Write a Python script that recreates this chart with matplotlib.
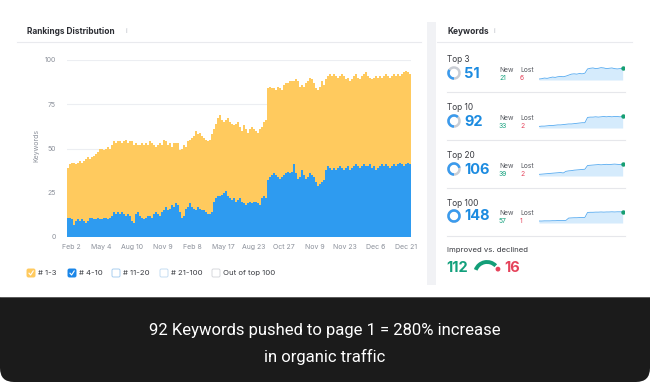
import numpy as np
import matplotlib.pyplot as plt
from matplotlib.patches import Rectangle, FancyBboxPatch, Arc, Circle

plt.rcParams['font.family'] = ['Inter', 'DejaVu Sans']

# keywords in top 10 (bar height) and the #4-10 part (blue)
top10_counts = [
    39, 41, 42,
    42, 41, 42, 43, 42, 43, 44, 45, 44,
    45, 46, 47, 48, 50,
    50, 49, 50, 51, 50, 52, 54, 53, 54,
    54, 53, 54, 55, 53, 54, 54, 52, 53, 52, 52,
    53, 52, 53, 52, 54, 53, 52, 51, 52, 53, 52, 55, 54, 52, 53, 51, 53, 53,
    53, 49, 50, 52, 51, 54, 55,
    56, 57, 60, 58, 59, 57, 56, 55, 54, 55, 58, 61, 64,
    67, 69, 66, 65, 66, 67, 65, 64, 63, 64, 65, 62, 60, 63, 61, 59, 61, 62, 61, 60, 59, 61, 62, 65, 66,
    84, 85, 84, 84, 83, 85, 84, 83, 86, 87, 87, 88,
    88, 88, 89, 88, 85, 86, 85, 87, 88, 90, 89, 87, 84, 83, 85, 88, 86, 89, 91, 92,
    91, 92, 91, 90, 91, 92, 91, 89, 90, 88, 89, 91, 92, 90, 89, 91, 92, 93, 91, 90,
    89, 90, 91, 90, 91, 90, 91, 92, 91, 90, 91, 92, 91, 92, 91, 92, 93, 94, 93, 92,
]
pos_4_10 = [
    11, 11, 10,
    7, 9, 10, 9, 10, 9, 8, 9, 11,
    11, 10, 10, 11, 10,
    10, 11, 11, 10, 11, 12, 14, 13, 14,
    13, 14, 13, 12, 13, 12, 9, 8, 13, 14, 12,
    11, 10, 11, 12, 12, 11, 13, 14, 13, 12, 14, 15, 17, 15, 16, 18, 17, 19,
    18, 14, 11, 12, 16, 17, 19,
    17, 16, 15, 17, 16, 15, 15, 14, 13, 13, 14, 20, 22,
    23, 23, 24, 25, 26, 23, 22, 21, 22, 20, 21, 22, 20, 19, 18, 19, 20, 19, 20, 20, 19, 18, 22, 23, 22,
    32, 34, 35, 36, 35, 34, 33, 34, 35, 36, 37, 36,
    37, 41, 36, 33, 34, 38, 35, 33, 34, 36, 35, 34, 31, 29, 30, 31, 32, 38, 40, 39,
    38, 39, 38, 39, 40, 39, 38, 39, 40, 38, 39, 40, 41, 40, 39, 40, 41, 40, 40, 41,
    39, 40, 38, 39, 40, 41, 40, 41, 40, 39, 40, 41, 40, 41, 42, 41, 40, 41, 42, 41,
]
pos_1_3 = [t - b for t, b in zip(top10_counts, pos_4_10)]

date_labels = ["Feb 2", "May 4", "Aug 10", "Nov 9", "Feb 8", "May 17",
               "Aug 23", "Oct 27", "Nov 9", "Nov 23", "Dec 6", "Dec 21"]
y_ticks = [0, 25, 50, 75, 100]

legend_labels = ["# 1-3", "# 4-10", "# 11-20", "# 21-100", "Out of top 100"]

kw_groups = ["Top 3", "Top 10", "Top 20", "Top 100"]
kw_counts = [51, 92, 106, 148]
kw_new = [21, 33, 39, 57]
kw_lost = [6, 2, 2, 1]
spark_top3 = [18, 19, 21, 20, 22, 24, 23, 25, 26, 25, 27, 30, 33, 34, 33, 35,
              34, 36, 49, 51, 52, 50, 51, 53, 52, 50, 51, 52, 50, 49, 50, 51]
spark_top10 = [60, 61, 61, 62, 63, 63, 64, 65, 65, 66, 67, 68, 68, 69, 70, 71,
               72, 72, 89, 90, 90, 91, 90, 91, 92, 91, 92, 91, 92, 92, 91, 92]
spark_top20 = [62, 63, 64, 65, 66, 67, 68, 69, 70, 68, 75, 77, 78, 80, 81, 82,
               83, 84, 100, 101, 102, 103, 104, 103, 104, 105, 104, 105, 106, 105, 104, 106]
spark_top100 = [92, 92, 93, 93, 93, 94, 94, 95, 95, 95, 96, 110, 111, 112, 112, 113,
                113, 114, 144, 145, 145, 146, 146, 147, 146, 147, 147, 148, 147, 148, 148, 148]
sparks = [spark_top3, spark_top10, spark_top20, spark_top100]
spark_ylims = [(15, 58), (55, 100), (55, 115), (80, 165)]
improved, declined = 112, 16
caption = ["92 Keywords pushed to page 1 = 280% increase", "in organic traffic"]

YELLOW = "#FFCA5E"
BLUE = "#2E9BF0"
NUMBLUE = "#1C8BE0"
GREEN = "#12A07C"
RED = "#E5435B"
GRAY = "#8C919B"
DARK = "#2B2D33"

W, H = 650, 382
fig = plt.figure(figsize=(6.5, 3.82), dpi=100, facecolor="white")

# overlay axes in pixel coordinates (y down) for the dashboard furniture
ov = fig.add_axes([0, 0, 1, 1], zorder=0)
ov.set_xlim(0, W)
ov.set_ylim(H, 0)
ov.axis("off")

ov.add_patch(Rectangle((427, 22), 9, 263, color="#F1F2F5", lw=0))
ov.plot([17, 421], [42, 42], color="#E9EAEE", lw=0.8)
ov.plot([437, 632], [42, 42], color="#E9EAEE", lw=0.8)
ov.text(27, 31, "Rankings Distribution", fontsize=6, fontweight="bold", color=DARK, va="center")
ov.text(126, 31, "i", fontsize=5, color="#B9BDC5", va="center")
ov.text(447, 31, "Keywords", fontsize=6, fontweight="bold", color=DARK, va="center")
ov.text(494, 31, "i", fontsize=5, color="#B9BDC5", va="center")
ov.text(36, 146, "Keywords", fontsize=5, color=GRAY, rotation=90, va="center", ha="center")

# legend checkboxes
box_x = [27, 68, 112, 160, 212]
box_face = [YELLOW, "#1A86E8", "white", "white", "white"]
box_edge = [YELLOW, "#1A86E8", "#A9CFF0", "#C5DDF2", "#D6D8DD"]
for bx, lab, fc, ec in zip(box_x, legend_labels, box_face, box_edge):
    ov.add_patch(FancyBboxPatch((bx, 269), 8, 8, boxstyle="round,pad=0,rounding_size=1.5",
                                fc=fc, ec=ec, lw=0.7))
    if fc != "white":
        ov.plot([bx + 2, bx + 3.6, bx + 6.2], [273.2, 275, 271], color="white", lw=0.8)
    ov.text(bx + 11, 273.3, lab, fontsize=5.6, color="#3A3C42", va="center")

# keyword rows
row_label_y = [60, 107, 155, 203]
row_num_y = [73, 121, 169, 216]
for i in range(4):
    ly, ny = row_label_y[i], row_num_y[i]
    ov.text(447, ly, kw_groups[i], fontsize=6, color="#3A3C42", va="center")
    frac = kw_counts[i] / kw_counts[-1]
    ov.add_patch(Arc((454, ny), 11, 11, theta1=0, theta2=360, color="#C9CDD4", lw=1.8))
    ov.add_patch(Arc((454, ny), 11, 11, theta1=90, theta2=90 + 360 * frac, color="#3A9BEE", lw=1.8))
    ov.text(464, ny + 0.5, str(kw_counts[i]), fontsize=10.5, fontweight="bold", color=NUMBLUE, va="center")
    ov.text(499, ny - 3, "New", fontsize=4.8, color="#55585F", va="center")
    ov.text(520, ny - 3, "Lost", fontsize=4.8, color="#55585F", va="center")
    ov.text(499, ny + 5, str(kw_new[i]), fontsize=4.8, color=GREEN, va="center")
    ov.text(520, ny + 5, str(kw_lost[i]), fontsize=4.8, color=RED, va="center")
    dy = ly + 32 + (1 if i else 0)
    ov.plot([447, 625], [dy, dy], color="#E6E7EB", lw=0.8)

    sp = sparks[i]
    sax = fig.add_axes([539 / W, 1 - (ny + 7) / H, 85 / W, 14 / H], zorder=2)
    xs = np.arange(len(sp))
    lo, hi = spark_ylims[i]
    sax.fill_between(xs, sp, lo, color="#D5EBFC", lw=0)
    sax.plot(xs, sp, color="#55AAF0", lw=0.6)
    sax.plot(xs[-1], sp[-1], "o", color="#169F72", ms=2.2)
    sax.set_xlim(0, len(sp) - 0.5)
    sax.set_ylim(lo, hi)
    sax.axis("off")

ov.text(447, 250, "Improved vs. declined", fontsize=5.6, color="#3A3C42", va="center")
ov.text(446, 267.5, str(improved), fontsize=10.5, fontweight="bold", color=GREEN, va="center")
ov.text(504, 267.5, str(declined), fontsize=10.5, fontweight="bold", color=RED, va="center")
# gauge (y axis points down, so the upper half uses angles 180-360)
g_frac = improved / (improved + declined)
g_end = 200 + 140 * g_frac
ov.add_patch(Arc((487, 274), 24, 24, theta1=200, theta2=g_end - 6, color="#139E78", lw=2.8))
ov.add_patch(Circle((487 + 12 * np.cos(np.radians(336)), 274 + 12 * np.sin(np.radians(336))),
                    1.7, color=RED))

# dark caption band with rounded bottom corners
ov.add_patch(FancyBboxPatch((0, 297), W, H - 297, boxstyle="round,pad=0,rounding_size=14",
                            fc="#1B1B1B", ec="none"))
ov.add_patch(Rectangle((0, 297), W, 30, fc="#1B1B1B", ec="none"))
ov.plot([0, W], [297, 297], color="#6A6A6A", lw=0.6)
ov.text(W / 2, 330, caption[0], fontsize=12, color="white", ha="center", va="center", family="Roboto")
ov.text(W / 2, 357, caption[1], fontsize=12, color="white", ha="center", va="center", family="Roboto")

# stacked bar chart
ax = fig.add_axes([67 / W, 1 - 237 / H, 344 / W, 177 / H], zorder=1)
ax.patch.set_alpha(0)
x = np.arange(len(top10_counts))
ax.bar(x, pos_4_10, width=0.72, color=BLUE, lw=0, zorder=2)
ax.bar(x, pos_1_3, bottom=pos_4_10, width=0.72, color=YELLOW, lw=0, zorder=2)
ax.set_xlim(-0.6, len(x) - 0.4)
ax.set_ylim(0, 100)
ax.set_yticks(y_ticks)
ax.set_yticklabels([str(v) for v in y_ticks], fontsize=5, color=GRAY)
tick_pos = np.linspace(1.5, len(x) - 3, len(date_labels))
ax.set_xticks(tick_pos)
ax.set_xticklabels(date_labels, fontsize=5, color=GRAY)
ax.tick_params(length=0, pad=5)
ax.tick_params(axis="y", pad=8)
ax.grid(axis="y", color="#ECEEF2", lw=0.8, zorder=0)
for s in ax.spines.values():
    s.set_visible(False)

fig.savefig("out.png", dpi=100, facecolor="white")
